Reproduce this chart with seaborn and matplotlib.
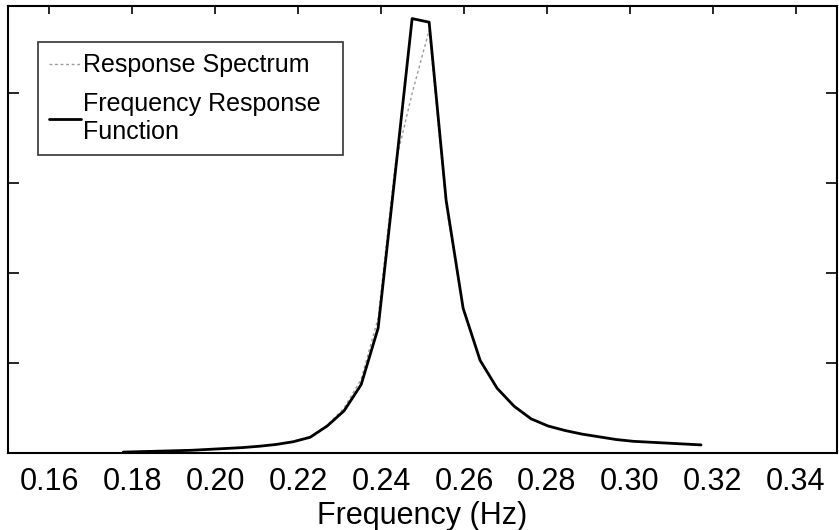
import matplotlib
matplotlib.use("Agg")
import matplotlib.pyplot as plt
import seaborn as sns
import pandas as pd

# data
freq = [0.1778, 0.1819, 0.1860, 0.1901, 0.1942, 0.1983, 0.2024, 0.2065, 0.2106,
        0.2147, 0.2188, 0.2229, 0.2270, 0.2311, 0.2352, 0.2393, 0.2434, 0.2475,
        0.2516, 0.2557, 0.2598, 0.2639, 0.2680, 0.2721, 0.2762, 0.2803, 0.2844,
        0.2885, 0.2926, 0.2967, 0.3008, 0.3049, 0.3090, 0.3131, 0.3172]
frf = [0.01, 0.015, 0.02, 0.025, 0.03, 0.04, 0.05, 0.06, 0.075,
       0.095, 0.125, 0.175, 0.30, 0.47, 0.76, 1.39, 3.10, 4.83,
       4.79, 2.81, 1.61, 1.03, 0.72, 0.52, 0.38, 0.30, 0.25,
       0.21, 0.18, 0.15, 0.13, 0.12, 0.11, 0.10, 0.09]
spectrum = [0.01, 0.015, 0.02, 0.025, 0.03, 0.04, 0.05, 0.06, 0.075,
            0.095, 0.13, 0.18, 0.31, 0.50, 0.82, 1.50, 3.20, 4.00,
            4.70, 2.75, 1.60, 1.02, 0.72, 0.52, 0.38, 0.30, 0.25,
            0.21, 0.18, 0.15, 0.13, 0.12, 0.11, 0.10, 0.09]
xticks = [0.16, 0.18, 0.20, 0.22, 0.24, 0.26, 0.28, 0.30, 0.32, 0.34]
yticks = [0, 1, 2, 3, 4]

df = pd.DataFrame({"freq": freq, "frf": frf, "spectrum": spectrum})

sns.set_theme(style="white")
plt.rcParams["font.family"] = ["Liberation Sans", "DejaVu Sans"]
plt.rcParams["text.color"] = "black"

fig = plt.figure(figsize=(8.39, 5.30), dpi=100)
ax = fig.add_axes([8 / 839, 1 - 453 / 530, 829 / 839, 447 / 530])

sns.lineplot(data=df, x="freq", y="spectrum", ax=ax, color="#9a9a9a",
             linewidth=1.0, linestyle=(0, (2, 2)), label="Response Spectrum")
sns.lineplot(data=df, x="freq", y="frf", ax=ax, color="black",
             linewidth=2.0, label="Frequency Response\nFunction")

ax.set_xlim(0.15, 0.35)
ax.set_ylim(0, 4.97)
ax.set_xticks(xticks)
ax.set_xticklabels([f"{t:.2f}" for t in xticks])
ax.set_yticks(yticks)
ax.set_yticklabels([])
ax.tick_params(axis="x", direction="in", length=6, width=1.2, top=True,
               labelsize=22, pad=10, colors="black")
ax.tick_params(axis="y", direction="in", length=8, width=1.2, right=True,
               left=True, colors="black")
for s in ax.spines.values():
    s.set_color("black")
    s.set_linewidth(1.5)

ax.set_xlabel("Frequency (Hz)", fontsize=22, labelpad=3, color="black")
ax.set_ylabel("")

leg = ax.legend(loc="upper left", bbox_to_anchor=(30 / 829, 1 - 36 / 447, 305 / 829, 0.0),
                mode="expand", borderaxespad=0, fontsize=18, frameon=True,
                fancybox=False, edgecolor="black", handlelength=1.25,
                handletextpad=0.1, labelspacing=0.6, borderpad=0.45)
leg.get_frame().set_linewidth(1.2)
for t in leg.get_texts():
    t.set_color("black")

fig.savefig("out.png", dpi=100, facecolor="white")
